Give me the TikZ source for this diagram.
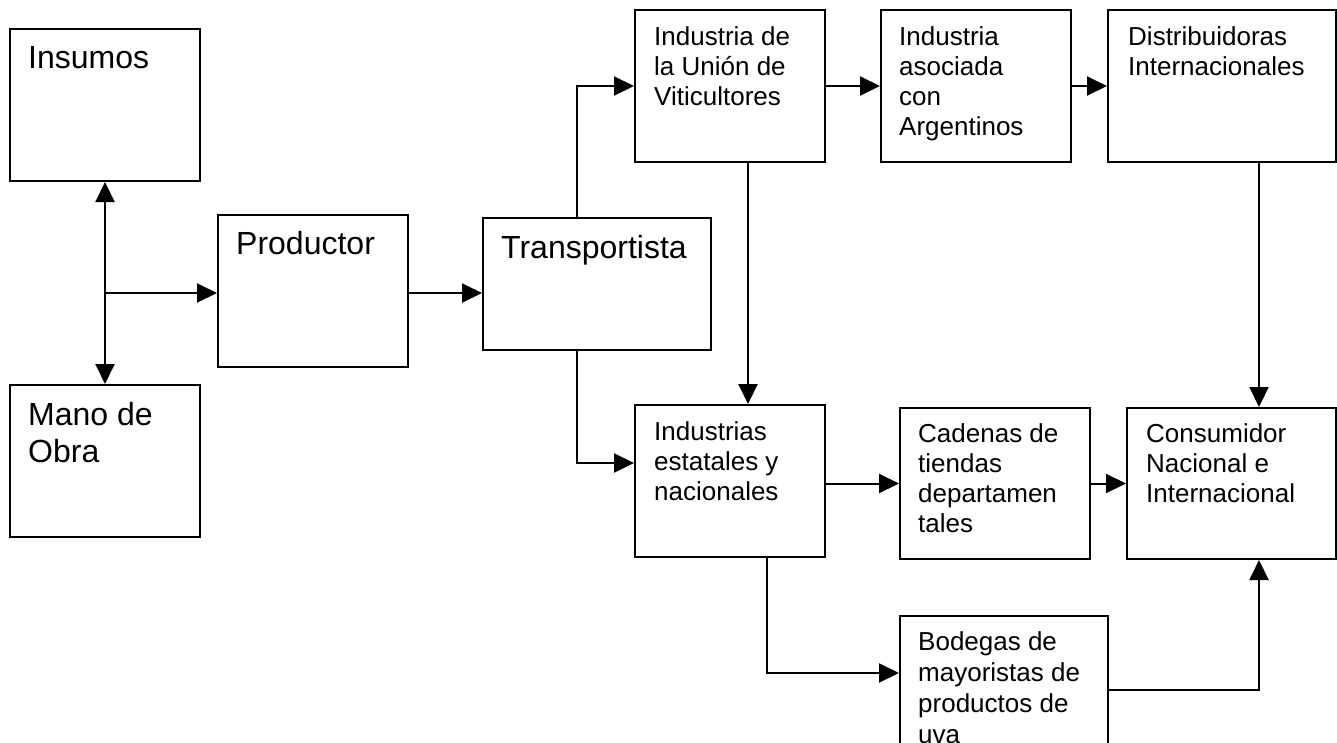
\documentclass[tikz,border=0pt]{standalone}
\usepackage{fontspec}
\setmainfont{Liberation Sans}
\usetikzlibrary{arrows.meta}
\begin{document}
\begin{tikzpicture}[x=1pt,y=-1pt,
  box/.style={draw, line width=2pt, anchor=north west, inner sep=0pt, rectangle},
  bigtxt/.style={anchor=base west, inner sep=0pt, font=\fontsize{32}{37}\selectfont},
  smalltxt/.style={anchor=base west, inner sep=0pt, font=\fontsize{26}{30.3}\selectfont},
  conn/.style={line width=2pt},
  arr/.style={conn, -{Triangle[length=20pt,width=19pt]}},
  darr/.style={conn, {Triangle[length=20pt,width=19pt]}-{Triangle[length=20pt,width=19pt]}},
]
\useasboundingbox (0,0) rectangle (1337,742);
\clip (0,0) rectangle (1337,742);

% boxes
\node[box, minimum width=190pt, minimum height=152pt] (ins)   at (9,28) {};
\node[box, minimum width=190pt, minimum height=152pt] (mano)  at (9,384) {};
\node[box, minimum width=190pt, minimum height=152pt] (prod)  at (217,214) {};
\node[box, minimum width=228pt, minimum height=132pt] (trans) at (482,217) {};
\node[box, minimum width=190pt, minimum height=152pt] (union) at (634,9) {};
\node[box, minimum width=190pt, minimum height=152pt] (asoc)  at (880,9) {};
\node[box, minimum width=228pt, minimum height=152pt] (dist)  at (1107,9) {};
\node[box, minimum width=190pt, minimum height=152pt] (estat) at (634,404) {};
\node[box, minimum width=190pt, minimum height=151pt] (cad)   at (899,407) {};
\node[box, minimum width=209pt, minimum height=151pt] (cons)  at (1126,407) {};
\node[box, minimum width=208pt, minimum height=160pt] (bod)   at (899,615) {};

% texts
\node[bigtxt] (tins)   at (28,68)  {Insumos};
\node[bigtxt] (tmano)  at (28,425) {\parbox[t]{170pt}{Mano de\\Obra}};
\node[bigtxt] (tprod)  at (236,254) {Productor};
\node[bigtxt] (ttrans) at (501,258) {Transportista};
\node[smalltxt] (tunion) at (654,45) {\parbox[t]{170pt}{Industria de\\la Unión de\\Viticultores}};
\node[smalltxt] (tasoc)  at (899,45) {\parbox[t]{170pt}{Industria\\asociada\\con\\Argentinos}};
\node[smalltxt] (tdist)  at (1128,45) {\parbox[t]{205pt}{Distribuidoras\\Internacionales}};
\node[smalltxt] (testat) at (654,440) {\parbox[t]{170pt}{Industrias\\estatales y\\nacionales}};
\node[smalltxt] (tcad)   at (918,442) {\parbox[t]{170pt}{Cadenas de\\tiendas\\departamen\\tales}};
\node[smalltxt] (tcons)  at (1146,442) {\parbox[t]{185pt}{Consumidor\\Nacional e\\Internacional}};
\node[smalltxt] (tbod)   at (918,650) {\parbox[t]{185pt}{\baselineskip=31pt Bodegas de\\mayoristas de\\productos de\\uva}};

% junction points
\coordinate (j)  at (104,293);
\coordinate (tu) at (577,217);
\coordinate (tb) at (577,349);
\coordinate (ud) at (748,161);
\coordinate (dd) at (1259,161);
\coordinate (ed) at (767,556);
\coordinate (be) at (1107,690);

% connectors
\draw[darr] (ins.south) -- (mano.north);
\draw[arr] (j) -- (j -| prod.west);
\draw[arr] (prod.east |- j) -- (trans.west |- j);
\draw[arr] (tu) |- (union.west);
\draw[arr] (tb) |- (estat.west |- 0,463);
\draw[arr] (union.east) -- (asoc.west);
\draw[arr] (asoc.east) -- (dist.west);
\draw[arr] (ud) -- (ud |- estat.north);
\draw[arr] (dd) -- (dd |- cons.north);
\draw[arr] (estat.east |- cad.west) -- (cad.west);
\draw[arr] (cad.east) -- (cons.west);
\draw[arr] (ed) |- (bod.west |- 0,673);
\draw[arr] (be) -| (dd |- cons.south);
\end{tikzpicture}
\end{document}
